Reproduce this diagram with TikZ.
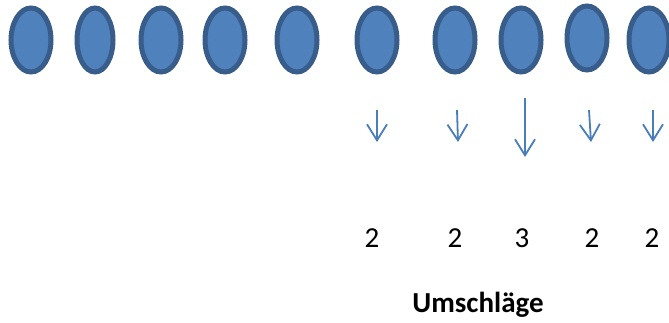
\documentclass[tikz,border=0pt]{standalone}
\usepackage{fontspec}
\setmainfont{Carlito}
\usepackage{xcolor}
\usetikzlibrary{shapes.geometric,arrows.meta}
\definecolor{bubblefill}{HTML}{4F81BD}
\definecolor{bubbleline}{HTML}{385D8A}
\definecolor{arrowblue}{HTML}{4A7EBB}

\begin{document}
\begin{tikzpicture}[x=1pt,y=-1pt,
    bubble/.style={ellipse,fill=bubblefill,draw=bubbleline,line width=5pt,
      minimum width=40pt,minimum height=64pt,inner sep=0pt},
    down/.style={-{Straight Barb[length=16pt,width=20pt,line width=1.8pt]},
      draw=arrowblue,line width=1.8pt},
    count/.style={font=\fontsize{29}{33}\selectfont}]
    \useasboundingbox (0,0) rectangle (669,323);
    % die Reihe
    \node[bubble] (B1) at (31,40) {};
    \node[bubble,minimum width=36pt] (B2) at (95,40) {};
    \node[bubble] (B3) at (161,40) {};
    \node[bubble] (B4) at (225,40) {};
    \node[bubble] (B5) at (297,40) {};
    \node[bubble] (B6) at (377,40) {};
    \node[bubble] (B7) at (455,40) {};
    \node[bubble] (B8) at (521,40) {};
    \node[bubble] (B9) at (587,38) {};
    \node[bubble] (B10) at (649,40) {};
    % Pfeile
    \coordinate (S6) at (377,110);  \coordinate (E6) at (377,142);
    \coordinate (S7) at (457,110);  \coordinate (E7) at (458,142);
    \coordinate (S8) at (525,98);   \coordinate (E8) at (525,157);
    \coordinate (S9) at (589,110);  \coordinate (E9) at (591,142);
    \coordinate (S10) at (653,110); \coordinate (E10) at (653,142);
    \draw[down] (S6) -- (E6);
    \draw[down] (S7) -- (E7);
    \draw[down] (S8) -- (E8);
    \draw[down] (S9) -- (E9);
    \draw[down] (S10) -- (E10);
    % Zahlen
    \node[count] (N6) at (372,238) {2};
    \node[count] (N7) at (455,238) {2};
    \node[count] (N8) at (522,238) {3};
    \node[count] (N9) at (592,238) {2};
    \node[count] (N10) at (652,238) {2};
    \node[font=\fontsize{29}{33}\selectfont\bfseries] (U) at (478,305) {Umschläge};
  \end{tikzpicture}
\end{document}
